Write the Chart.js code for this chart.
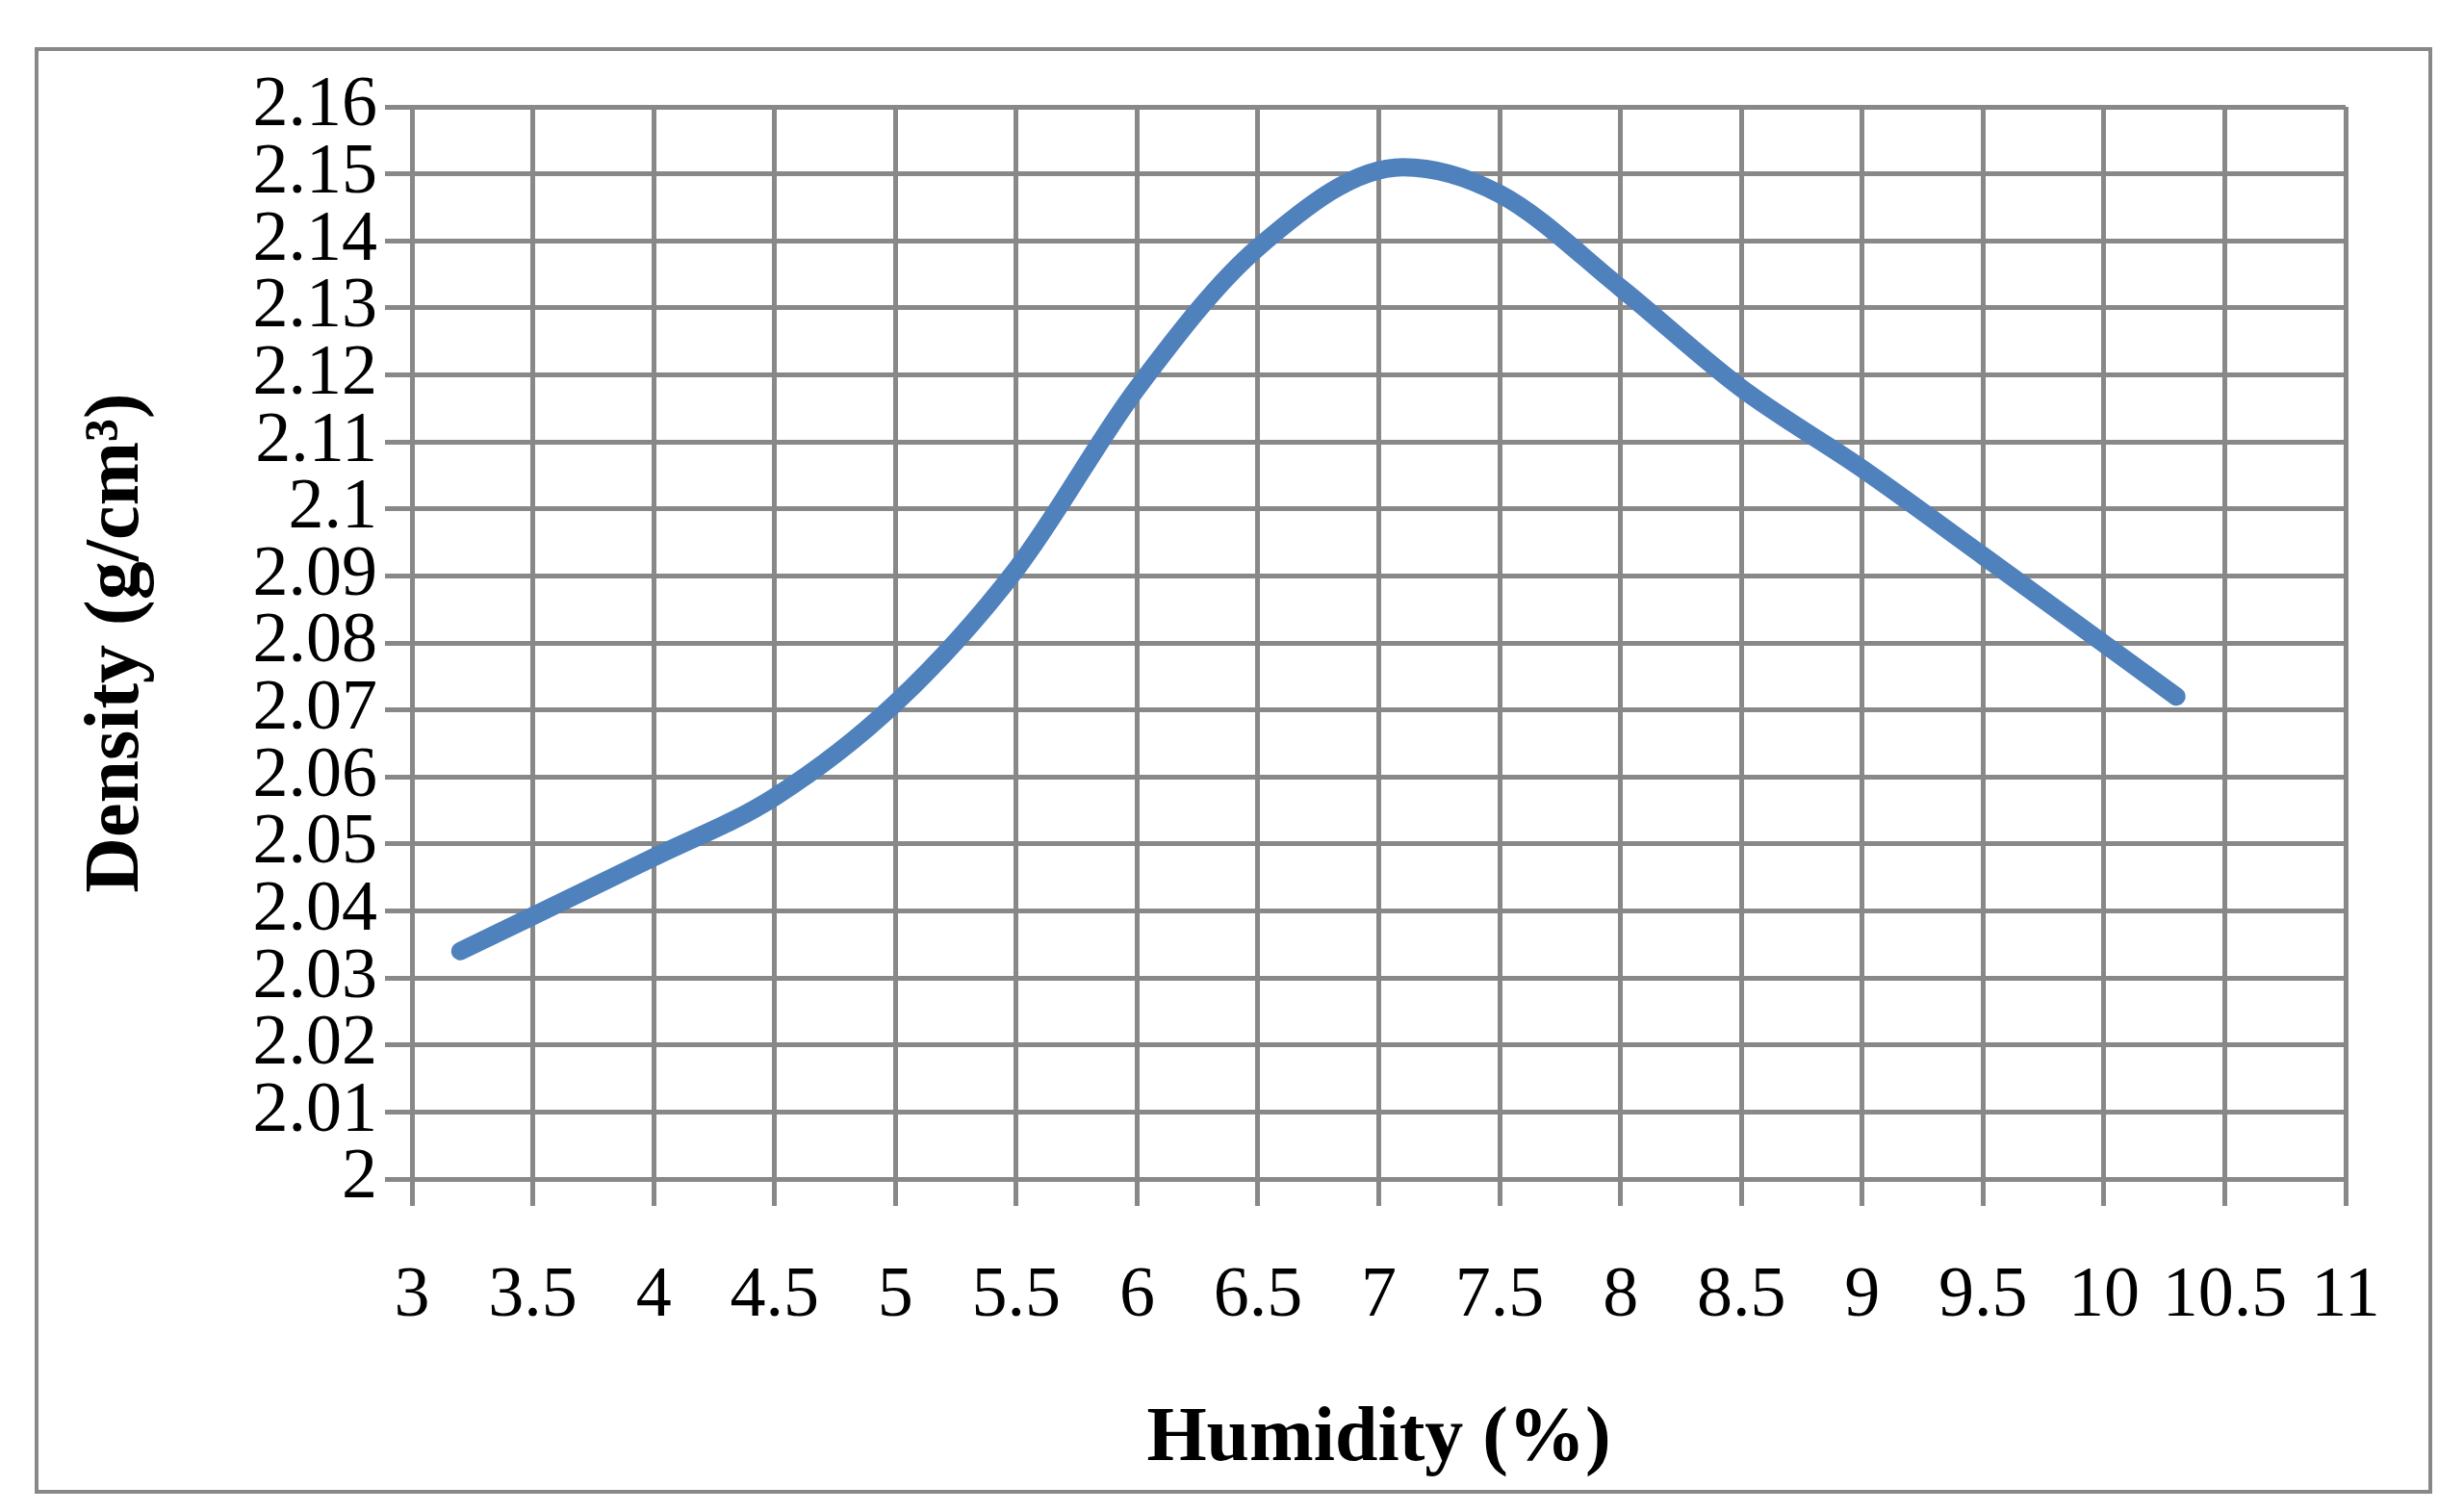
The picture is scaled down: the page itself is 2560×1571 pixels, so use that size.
<!DOCTYPE html>
<html>
<head>
<meta charset="utf-8">
<script src="https://cdn.jsdelivr.net/npm/chart.js@4"></script>
<style>
  body { margin: 0; background: #fff; }
  #frame { position: absolute; left: 36px; top: 49px; width: 2483px; height: 1495px; border: 4px solid #888; }
</style>
</head>
<body>
<div id="frame"><canvas id="chart" width="2483" height="1495"></canvas></div>
<script>
// Humidity (%) vs density (g/cm3)
const humidity = [3.2, 4, 4.5, 5, 5.5, 6, 6.5, 7.1, 7.5, 8, 8.5, 9, 9.5, 10.3];
const density = [2.034, 2.048, 2.057, 2.071, 2.091, 2.118, 2.139, 2.151, 2.147, 2.133, 2.118, 2.106, 2.093, 2.072];

const gridColor = '#888888';
const fmt = v => String(+Number(v).toFixed(2));

const ctx = document.getElementById('chart').getContext('2d');
new Chart(ctx, {
  type: 'line',
  data: {
    datasets: [{
      data: humidity.map((h, i) => ({ x: h, y: density[i] })),
      borderColor: '#4f81bd',
      borderWidth: 19,
      borderCapStyle: 'round',
      pointRadius: 0,
      cubicInterpolationMode: 'monotone',
      fill: false
    }]
  },
  options: {
    responsive: false,
    animation: false,
    layout: { padding: { top: 58, right: 86, left: 30, bottom: 0 } },
    plugins: { legend: { display: false }, tooltip: { enabled: false } },
    scales: {
      x: {
        type: 'linear', min: 3, max: 11,
        grid: { color: gridColor, lineWidth: 5, tickLength: 28 },
        border: { color: gridColor, width: 5 },
        ticks: { stepSize: 0.5, autoSkip: false, callback: fmt, color: '#000', padding: 50, maxRotation: 0,
                 font: { family: 'Liberation Serif', size: 74 } },
        title: { display: true, text: 'Humidity (%)', color: '#000', padding: { top: 30 },
                 font: { family: 'Liberation Serif', size: 80, weight: 'bold' } },
        afterFit: s => { s.height = 323; }
      },
      y: {
        min: 2, max: 2.16,
        grid: { color: gridColor, lineWidth: 5, tickLength: 28 },
        border: { color: gridColor, width: 5 },
        ticks: { stepSize: 0.01, autoSkip: false, callback: fmt, color: '#000', padding: 8,
                 font: { family: 'Liberation Serif', size: 74 } },
        title: { display: true, text: 'Density (g/cm³)', color: '#000', padding: { bottom: 10 },
                 font: { family: 'Liberation Serif', size: 80, weight: 'bold' } },
        afterFit: s => { s.width = 358; }
      }
    }
  }
});
</script>
</body>
</html>
